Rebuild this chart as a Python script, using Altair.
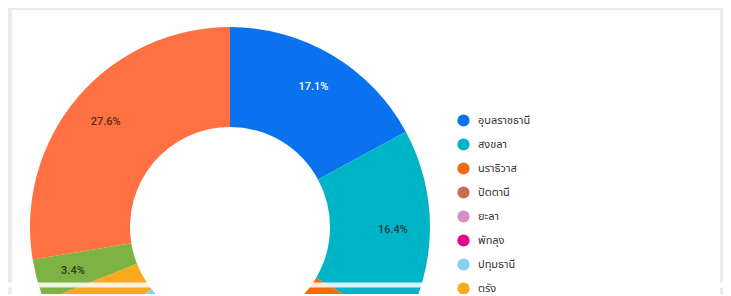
import altair as alt
import pandas as pd

provinces = ["อุบลราชธานี", "สงขลา", "นราธิวาส", "ปัตตานี", "ยะลา",
             "พัทลุง", "ปทุมธานี", "ตรัง", "สตูล", "อื่นๆ"]
shares = [17.1, 16.4, 9.6, 6.5, 5.3, 4.8, 4.7, 4.6, 3.4, 27.6]
colors = ["#0a72ef", "#00b4c8", "#f56b0c", "#cc6b4f", "#d88ec4",
          "#e3068c", "#86cff5", "#f8a91e", "#7cb342", "#ff7043"]
label_colors = ["#ffffff", "#2f3b40", "#333333", "#333333", "#333333",
                "#333333", "#333333", "#333333", "#2f3b2a", "#5a2a18"]

df = pd.DataFrame({
    "province": provinces,
    "share": shares,
    "idx": list(range(len(provinces))),
    "label": [f"{v:.1f}%" for v in shares],
    "lc": label_colors,
})

FONT = "Roboto, Noto Sans, Noto Sans Thai, sans-serif"

base = alt.Chart(df).encode(
    theta=alt.Theta("share:Q", stack=True),
    order=alt.Order("idx:Q", sort="ascending"),
    x=alt.value(218),
    y=alt.value(217),
)

arcs = base.mark_arc(innerRadius=100, outerRadius=200, stroke=None).encode(
    color=alt.Color(
        "province:N",
        scale=alt.Scale(domain=provinces, range=colors),
        sort=provinces,
        legend=alt.Legend(
            title=None,
            orient="none",
            legendX=445,
            legendY=104,
            symbolType="circle",
            symbolSize=150,
            symbolStrokeWidth=0,
            labelFontSize=11,
            labelFont=FONT,
            labelColor="#333333",
            labelOffset=8,
            rowPadding=11,
            labelLimit=300,
            padding=0,
        ),
    )
)

texts = base.mark_text(radius=163, fontSize=11, font=FONT, fontWeight=500).encode(
    text="label:N",
    color=alt.Color("lc:N", scale=None),
)

band = alt.Chart(df.head(1)).mark_rule(color="#ffffff", strokeWidth=5, opacity=0.85).encode(
    x=alt.value(-4), x2=alt.value(711), y=alt.value(275)
)

chart = alt.layer(arcs, texts, band).properties(
    width=708,
    height=284,
    padding={"left": 4, "top": 2, "right": 3, "bottom": 0},
    autosize=alt.AutoSizeParams(type="none"),
    background="#e9ecef",
).configure_view(fill="#ffffff", stroke=None)

chart.save("out.html", embed_options={"renderer": "svg", "actions": False})
